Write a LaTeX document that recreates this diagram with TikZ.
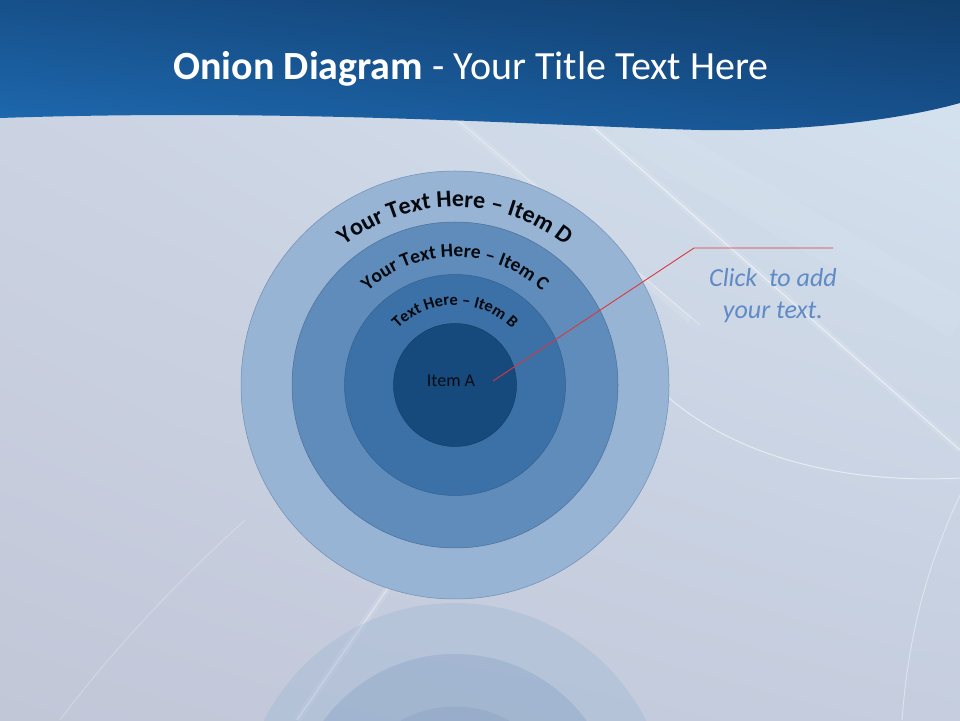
\documentclass[tikz,border=0pt]{standalone}
\usepackage{fontspec}
\setmainfont{Carlito}
\usetikzlibrary{decorations.text,shadings}
\definecolor{bgLL}{HTML}{C2C7D8}
\definecolor{bgUL}{HTML}{CDD5E4}
\definecolor{bgUR}{HTML}{D6E4F1}
\definecolor{bgLR}{HTML}{C5CDDE}
\definecolor{hdUL}{HTML}{17508A}
\definecolor{hdUR}{HTML}{113E6C}
\definecolor{hdLL}{HTML}{1E6AB1}
\definecolor{hdLR}{HTML}{17528F}
\definecolor{ringD}{HTML}{97B4D4}
\definecolor{ringC}{HTML}{5F8CBB}
\definecolor{ringB}{HTML}{3C71A8}
\definecolor{ringA}{HTML}{174A7C}
\definecolor{ringEdge}{HTML}{6F8EB3}
\definecolor{itemText}{HTML}{060C16}
\definecolor{curveText}{HTML}{05080D}
\definecolor{noteText}{HTML}{5F8AC4}
\definecolor{calloutRed}{HTML}{D9383D}
\tikzset{
  ring/.style={circle, draw=ringEdge, line width=0.5pt, inner sep=0pt, minimum size=#1},
  streak/.style={white, line width=1pt, opacity=0.55},
  glow/.style={white, line width=7pt, opacity=0.12},
  curvetext/.style={decorate, decoration={text along path, text align=center, text={#1}}},
}
\begin{document}
\begin{tikzpicture}[x=1pt,y=1pt]
\useasboundingbox (0,0) rectangle (960,720);
% background
\shade[lower left=bgLL, upper left=bgUL, upper right=bgUR, lower right=bgLR] (0,0) rectangle (960,720);
% light streaks
\draw[glow] (583,602) -- (960,270);
\draw[streak] (583,602) -- (960,270);
\draw[glow] (455,602) -- (690,400);
\draw[streak, opacity=0.35] (455,602) -- (700,395);
\draw[glow, line width=40pt, opacity=0.06] (620,600) -- (960,400);
\draw[streak] (655,335) .. controls (720,270) and (830,235) .. (960,242);
\draw[streak, opacity=0.4] (960,225) .. controls (925,150) and (908,80) .. (902,0);
\draw[glow] (390,135) -- (297,0);
\draw[streak, opacity=0.45] (390,135) -- (297,0);
\draw[streak, opacity=0.25] (60,0) .. controls (120,80) and (190,150) .. (245,200);
% header band
\shade[upper left=hdUL, upper right=hdUR, lower left=hdLL, lower right=hdLR]
  (0,720) -- (960,720) -- (960,617) .. controls (900,600) and (800,588) .. (700,590)
  .. controls (550,594) and (300,612) .. (0,602) -- cycle;
\node[text=white, font=\fontsize{40}{40}\selectfont] (title) at (471,651)
  {\textbf{Onion Diagram} - Your Title Text Here};
% reflection
\begin{scope}[transparency group, opacity=0.32]
  \clip (0,0) rectangle (960,119);
  \fill[ringD] (455,-97) circle (214);
  \fill[ringC] (455,-97) circle (163);
  \fill[ringB] (455,-97) circle (110.5);
  \fill[ringA] (455,-97) circle (61.5);
\end{scope}
% onion rings
\node[ring=428pt, fill=ringD] (ringD) at (455,335) {};
\node[ring=326pt, fill=ringC, draw=ringC!80!black] (ringC) at (455,335) {};
\node[ring=221pt, fill=ringB, draw=ringB!85!black] (ringB) at (455,335) {};
\node[ring=123pt, fill=ringA, draw=ringA!85!black] (ringA) at (455,335) {};
\node[text=itemText, font=\fontsize{18}{18}\selectfont] (itemA) at (451,339) {Item A};
% curved labels
\path[curvetext={|\color{curveText}\fontsize{24}{24}\selectfont\bfseries|Your Text Here – Item D}]
  (277,335) arc[start angle=180, end angle=0, radius=178];
\path[curvetext={|\color{curveText}\fontsize{19.5}{19.5}\selectfont\bfseries|Your Text Here – Item C}]
  (327,335) arc[start angle=180, end angle=0, radius=128];
\path[curvetext={|\color{curveText}\fontsize{16.5}{16.5}\selectfont\bfseries|Text Here – Item B}]
  (375,335) arc[start angle=180, end angle=0, radius=80];
% callout
\coordinate (tip) at (493,339);
\coordinate (elbow) at (694,472);
\coordinate (lineEnd) at (833,472);
\draw[calloutRed, line width=0.9pt] (tip) -- (elbow) -- (lineEnd);
\node[text=noteText, font=\fontsize{26}{32}\selectfont\itshape, align=center] (note) at (773,424)
  {Click\ \ to add\\your text.};
\end{tikzpicture}
\end{document}
